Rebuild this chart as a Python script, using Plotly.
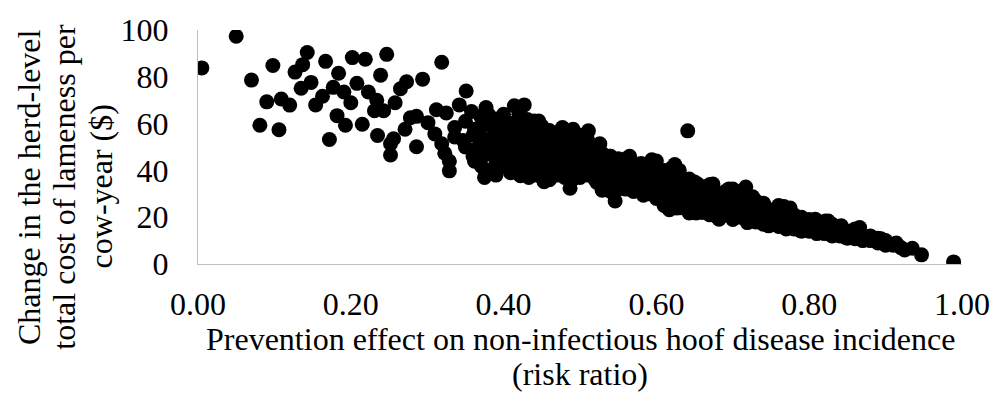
import plotly.graph_objects as go

# Individually readable points (risk ratio, change in cost $)
scatter_rr = [0.005, 0.050, 0.070, 0.098, 0.090, 0.109, 0.120, 0.081, 0.106, 0.143, 0.137, 0.127,
              0.148, 0.135, 0.167, 0.184, 0.202, 0.219, 0.208, 0.177, 0.191, 0.163, 0.154, 0.200,
              0.182, 0.193, 0.215, 0.172, 0.223, 0.247, 0.319, 0.239, 0.273, 0.294, 0.265, 0.234,
              0.258, 0.243, 0.231, 0.235, 0.256, 0.271, 0.278, 0.286, 0.252, 0.252, 0.286, 0.301,
              0.312, 0.325, 0.351, 0.342, 0.358, 0.377, 0.414, 0.427, 0.310, 0.336, 0.336, 0.362,
              0.375, 0.388, 0.401, 0.414, 0.431, 0.319, 0.323, 0.329, 0.329, 0.347, 0.362, 0.371,
              0.375, 0.405, 0.401, 0.409, 0.422, 0.427, 0.641, 0.487, 0.453, 0.433, 0.362, 0.511,
              0.526, 0.539, 0.565, 0.594, 0.624, 0.529, 0.546, 0.583, 0.617, 0.643, 0.643, 0.505,
              0.470, 0.440, 0.446, 0.477, 0.491, 0.522, 0.630, 0.654, 0.674, 0.695, 0.717, 0.726,
              0.741, 0.767, 0.775, 0.788, 0.808, 0.825, 0.842, 0.866, 0.877, 0.860, 0.847, 0.788,
              0.747, 0.719, 0.682, 0.652, 0.626, 0.821, 0.851, 0.894, 0.914, 0.925, 0.935, 0.947,
              0.989]
scatter_cost = [83.8, 97.3, 78.6, 84.8, 69.3, 70.5, 67.9, 59.3, 57.4, 90.4, 85.2, 82.0,
                77.6, 75.1, 86.6, 81.5, 88.2, 87.5, 77.2, 75.5, 73.5, 71.7, 68.0, 68.9,
                63.4, 59.3, 59.7, 53.2, 73.5, 89.6, 86.2, 80.7, 77.9, 79.0, 74.9, 70.0,
                68.9, 65.5, 65.5, 54.9, 53.5, 57.6, 62.5, 63.1, 51.4, 46.6, 50.1, 60.4,
                65.9, 64.5, 73.9, 68.0, 65.2, 66.9, 67.6, 68.0, 55.6, 58.3, 54.3, 57.6,
                60.4, 56.3, 54.9, 55.6, 61.8, 51.4, 47.3, 43.9, 39.8, 52.8, 48.7, 41.8,
                37.0, 52.8, 47.3, 39.0, 37.7, 43.2, 56.9, 32.4, 35.2, 37.0, 43.9, 56.9,
                51.4, 46.0, 46.0, 44.5, 42.5, 31.5, 26.9, 29.4, 23.2, 21.8, 36.3, 39.0,
                38.3, 61.1, 61.1, 58.3, 57.6, 34.9, 37.8, 34.2, 34.2, 32.1, 32.9, 28.7,
                25.3, 24.6, 23.9, 19.8, 19.1, 18.4, 16.3, 15.6, 11.5, 10.8, 11.5, 14.3,
                16.3, 17.7, 19.1, 21.8, 23.9, 18.4, 11.5, 10.8, 9.0, 6.0, 6.7, 3.9,
                0.9]

# Dense band: risk ratio columns and the cost values read in each column
band_rr = [0.35, 0.36, 0.37, 0.38, 0.39, 0.40, 0.41, 0.42, 0.43, 0.44, 0.45, 0.46,
           0.47, 0.48, 0.49, 0.50, 0.51, 0.52, 0.53, 0.54, 0.55, 0.56, 0.57, 0.58, 0.59, 0.60,
           0.61, 0.62, 0.63, 0.64, 0.65, 0.66, 0.67, 0.68, 0.69, 0.70, 0.71, 0.72, 0.73, 0.74,
           0.75, 0.76, 0.77, 0.78, 0.79, 0.80, 0.81, 0.82, 0.83, 0.84, 0.85, 0.86, 0.87, 0.88,
           0.89, 0.90, 0.91, 0.92]
band_cost = [[50, 61], [46, 55], [45, 52, 58, 63],
             [40, 47, 50, 53, 60, 64], [38, 43, 49, 52, 59, 62], [42, 45, 50, 58, 61, 64],
             [40, 44, 48, 51, 57, 60], [41, 46, 49, 53, 58, 64], [40, 43, 48, 51, 55, 59],
             [38, 41, 45, 50, 53, 57], [37, 40, 44, 47, 52, 55, 59], [36, 39, 43, 46, 50, 54, 57],
             [38, 41, 45, 48, 52, 56], [37, 40, 44, 47, 50, 54, 57], [36, 39, 42, 46, 49, 53],
             [37, 40, 44, 47, 51, 55], [38, 42, 45, 49, 53], [36, 40, 43, 47, 50],
             [33, 36, 39, 43, 47], [31, 35, 39, 43, 46], [32, 35, 38, 42, 45], [32, 35, 38, 42, 45],
             [31, 34, 38, 42], [31, 34, 37, 40, 43], [30, 33, 36, 39, 42], [28, 31, 35, 38, 41, 44],
             [25, 28, 32, 36, 40], [24, 28, 32, 35, 38, 41], [24, 27, 30, 33, 37, 40],
             [24, 27, 31, 34], [22, 25, 29, 32, 35], [22, 26, 29, 33], [21, 24, 28, 31, 34],
             [20, 23, 27, 30], [21, 25, 28, 31], [19, 22, 26, 29, 32], [20, 24, 27, 31],
             [18, 22, 25, 29], [18, 21, 24, 27], [17, 20, 23, 26], [17, 20, 23], [16, 19, 22, 25],
             [15, 18, 21, 23], [15, 18, 21], [14, 17, 20], [14, 17, 19], [13, 16, 18], [13, 15, 17],
             [12, 14, 17], [12, 14, 16], [11, 14], [11, 13, 15], [10, 12], [10, 12], [9, 11],
             [8, 10], [8], [7]]

x_ticks = [0, 0.2, 0.4, 0.6, 0.8, 1.0]
x_tick_labels = ["0.00", "0.20", "0.40", "0.60", "0.80", "1.00"]
y_ticks = [0, 20, 40, 60, 80, 100]

y_title_lines = ["Change in the herd-level", "total cost of lameness per", "cow-year ($)"]
x_title_lines = ["Prevention effect on non-infectious hoof disease incidence", "(risk ratio)"]

all_x = list(scatter_rr)
all_y = list(scatter_cost)
for rr, costs in zip(band_rr, band_cost):
    for c in costs:
        all_x.append(rr)
        all_y.append(c)

FONT = "Liberation Serif, Times New Roman, serif"
W, H = 1002, 400
ML, MR, MT, MB = 198, 34, 22, 136
PW, PH = W - ML - MR, H - MT - MB

fig = go.Figure()
fig.add_trace(go.Scatter(
    x=all_x, y=all_y, mode="markers",
    marker=dict(size=15, color="black", line=dict(width=0)),
    hoverinfo="x+y", showlegend=False,
))

annotations = []
# y title lines (rotated), positions in pixels converted to paper coords
for cx, line in zip([27, 63, 100], y_title_lines):
    annotations.append(dict(
        text=line, textangle=-90, showarrow=False,
        xref="paper", yref="paper",
        x=(cx - ML) / PW, y=(MT + PH - 184) / PH,
        xanchor="center", yanchor="middle",
        font=dict(family=FONT, size=32, color="black"),
    ))
for cy, line in zip([342, 378], x_title_lines):
    annotations.append(dict(
        text=line, showarrow=False,
        xref="paper", yref="paper",
        x=0.5, y=(MT + PH - cy) / PH,
        xanchor="center", yanchor="middle",
        font=dict(family=FONT, size=32, color="black"),
    ))

fig.update_layout(
    width=W, height=H,
    margin=dict(l=ML, r=MR, t=MT, b=MB, pad=0),
    paper_bgcolor="white", plot_bgcolor="white",
    font=dict(family=FONT, size=32, color="black"),
    annotations=annotations,
    xaxis=dict(
        range=[0, 1], tickvals=x_ticks, ticktext=x_tick_labels,
        showgrid=False, zeroline=False, showline=True, linecolor="#bfbfbf", linewidth=1,
        ticks="", ticklabelstandoff=12,
        tickfont=dict(family=FONT, size=32, color="black"),
    ),
    yaxis=dict(
        range=[0, 100], tickvals=y_ticks,
        showgrid=False, zeroline=False, showline=True, linecolor="#bfbfbf", linewidth=1,
        ticks="", ticklabelstandoff=22,
        tickfont=dict(family=FONT, size=32, color="black"),
    ),
)

fig.write_html("out.html")
